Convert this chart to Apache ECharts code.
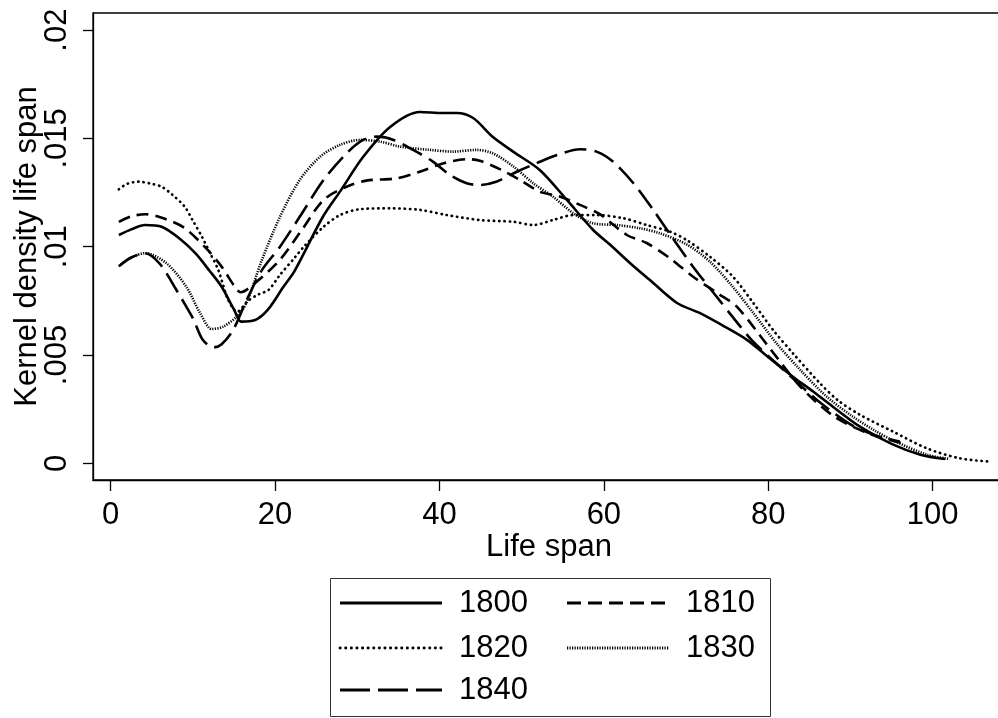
<!DOCTYPE html>
<html>
<head>
<meta charset="utf-8">
<script src="https://cdn.jsdelivr.net/npm/echarts@6/dist/echarts.min.js"></script>
<style>
html,body{margin:0;padding:0;background:#fff;}
#chart{width:998px;height:718px;}
</style>
</head>
<body>
<div id="chart"></div>
<script>
// ---- data ----
const seriesNames = ['1800', '1810', '1820', '1830', '1840'];
const xTickValues = [0, 20, 40, 60, 80, 100];
const yTickValues = [0, 0.005, 0.01, 0.015, 0.02];

const x1800 = [1, 2.5, 4.2, 6.2, 8.3, 10.3, 12, 13.5, 15, 15.9, 17.5, 19.1, 21, 22.4, 25.8, 28, 30.7, 34, 37.6, 40.4, 42.1, 44.1, 46.5, 49, 52.2, 55.5, 58.7, 60.8, 63.2, 65.6, 68.9, 71.7, 74.5, 77.4, 80, 83, 85.5, 87.9, 91.2, 95, 98.5, 101.5];
const y1800 = [0.01054, 0.0108, 0.0110, 0.01092, 0.0104, 0.0097, 0.0089, 0.00815, 0.0071, 0.00654, 0.0066, 0.00708, 0.00814, 0.0089, 0.01137, 0.0126, 0.01414, 0.01553, 0.01622, 0.01617, 0.01617, 0.01594, 0.01506, 0.01438, 0.01354, 0.01216, 0.01077, 0.01008, 0.00924, 0.00846, 0.0074, 0.00693, 0.00635, 0.0057, 0.0049, 0.0040, 0.0033, 0.0026, 0.00168, 0.0009, 0.0004, 0.0002];

const x1810 = [1, 2.5, 4.2, 6.5, 9, 11.8, 13.5, 15.1, 15.8, 17.5, 20.6, 23.3, 25.9, 28.7, 31.1, 34.8, 37.6, 40.5, 43.3, 44.9, 47.4, 49.8, 52.2, 54.7, 57.1, 59.5, 62.8, 65.2, 68, 70.9, 73.8, 76.2, 80, 84, 88.1, 92.4, 96.6];
const y1810 = [0.01115, 0.0114, 0.0115, 0.0113, 0.01086, 0.00985, 0.00908, 0.00815, 0.0079, 0.0083, 0.0094, 0.0108, 0.01216, 0.01277, 0.01305, 0.01316, 0.01346, 0.01385, 0.01404, 0.01397, 0.01357, 0.01308, 0.01254, 0.01231, 0.01193, 0.0115, 0.01054, 0.01017, 0.00948, 0.0086, 0.00786, 0.00722, 0.0054, 0.0035, 0.00214, 0.00135, 0.0009];

const x1820 = [1, 2, 3.4, 5, 6.2, 7.5, 9, 10, 11.1, 12.1, 13.1, 14.3, 15.4, 16.7, 18, 19.2, 20.6, 22.4, 23.5, 25.9, 27.9, 30.3, 34, 37.6, 40.9, 44.9, 49, 51.4, 53.8, 56.3, 59.1, 62.4, 65.2, 68, 70.1, 72.9, 75.7, 78.2, 80.6, 83, 86.3, 88.5, 91.2, 95.2, 99.3, 103.3, 107.2];
const y1820 = [0.01265, 0.0129, 0.0130, 0.0129, 0.01277, 0.0124, 0.01185, 0.0112, 0.01046, 0.0097, 0.00892, 0.00754, 0.0070, 0.0075, 0.0078, 0.0080, 0.0087, 0.0095, 0.0100, 0.01092, 0.01146, 0.01173, 0.01177, 0.0117, 0.01146, 0.01123, 0.01115, 0.011, 0.01123, 0.01146, 0.01146, 0.01131, 0.011, 0.0107, 0.0103, 0.00954, 0.00862, 0.00739, 0.00615, 0.00508, 0.00369, 0.0029, 0.00223, 0.00146, 0.00069, 0.00023, 0.00007];

const x1830 = [1, 2.5, 4.2, 6.8, 9.2, 10.9, 12.3, 13.7, 15.3, 16.5, 18.4, 20.6, 23, 25.5, 27.9, 30.3, 32.8, 35.2, 38.8, 41.7, 44.5, 46.5, 49, 51.4, 53.8, 56.3, 58.7, 61.6, 64.4, 66.8, 70.1, 72.9, 75.7, 78.2, 81, 83.9, 87.1, 90.3, 93, 95.2, 99.3, 102];
const y1830 = [0.0091, 0.0095, 0.0097, 0.00923, 0.00815, 0.00692, 0.0062, 0.00631, 0.00677, 0.00739, 0.00939, 0.01138, 0.01308, 0.01416, 0.0147, 0.01493, 0.01485, 0.01462, 0.01447, 0.01439, 0.01447, 0.01431, 0.0137, 0.01293, 0.01231, 0.01154, 0.01108, 0.011, 0.01085, 0.01062, 0.0101, 0.00931, 0.00814, 0.00693, 0.00554, 0.00431, 0.00308, 0.00215, 0.0015, 0.00105, 0.0004, 0.0002];

const x1840 = [1, 2.5, 4.2, 6, 8, 9.2, 10.1, 11.2, 12.5, 13.5, 14.9, 16.5, 18.4, 20.6, 23, 25.9, 28.7, 30.7, 32.4, 34.4, 36.8, 39.2, 41.3, 43.3, 44.9, 46.9, 49.4, 51.8, 54.3, 57.1, 59.1, 61.1, 63.6, 66, 68, 70.8, 73.7, 76, 78.2, 82.2, 86, 90, 93, 96];
const y1840 = [0.0091, 0.0095, 0.0097, 0.0092, 0.0080, 0.00723, 0.00662, 0.0057, 0.00535, 0.0055, 0.00616, 0.0075, 0.00892, 0.0100, 0.01138, 0.01308, 0.01431, 0.01493, 0.01508, 0.01493, 0.01447, 0.01393, 0.01331, 0.01293, 0.01285, 0.013, 0.01346, 0.01385, 0.01423, 0.0145, 0.01439, 0.01393, 0.01293, 0.0117, 0.0106, 0.0091, 0.0077, 0.0066, 0.0056, 0.0042, 0.0029, 0.0018, 0.0013, 0.0010];

const xsAll = [x1800, x1810, x1820, x1830, x1840];
const ysAll = [y1800, y1810, y1820, y1830, y1840];

// ---- styles ----
const FONT = 'Liberation Sans, Arial, Helvetica, sans-serif';
const FS = 31;
const lineStyles = [
  { type: 'solid', width: 2.6, cap: 'butt' },
  { type: [12, 7], width: 2.6, cap: 'butt' },
  { type: [0.3, 5], width: 2.7, cap: 'round' },
  { type: [1.2, 1.3], width: 2.6, cap: 'butt' },
  { type: [22, 8], width: 2.6, cap: 'butt' }
];

const series = seriesNames.map((name, i) => ({
  name: name,
  type: 'line',
  data: xsAll[i].map((x, j) => [x, ysAll[i][j]]),
  smooth: 0.3,
  symbol: 'none',
  lineStyle: Object.assign({ color: '#000' }, lineStyles[i]),
  z: 3
}));

// ---- legend drawn as graphic ----
const legendRows = [
  { i: 0, x: 340, y: 603 }, { i: 1, x: 567, y: 603 },
  { i: 2, x: 340, y: 648 }, { i: 3, x: 567, y: 648 },
  { i: 4, x: 340, y: 690 }
];
const graphics = [{
  type: 'rect',
  shape: { x: 330.5, y: 578.5, width: 440, height: 138 },
  style: { fill: '#fff', stroke: '#333', lineWidth: 1 },
  z: 10
}];
const legendDash = [null, [14, 7], [0.3, 5.3], [1.2, 1.3], [30, 8]];
legendRows.forEach(r => {
  const ls = lineStyles[r.i];
  graphics.push({
    type: 'line',
    shape: { x1: r.x, y1: r.y, x2: r.x + 102, y2: r.y },
    style: {
      stroke: '#000', lineWidth: 2.8,
      lineDash: legendDash[r.i] || null,
      lineCap: ls.cap
    },
    z: 11
  });
  graphics.push({
    type: 'text',
    x: r.x + 119, y: r.y,
    style: {
      text: seriesNames[r.i], fill: '#000', font: FS + 'px ' + FONT,
      textVerticalAlign: 'middle', verticalAlign: 'middle'
    },
    z: 11
  });
});

const chart = echarts.init(document.getElementById('chart'), null, { renderer: 'canvas' });
chart.setOption({
  animation: false,
  backgroundColor: '#fff',
  textStyle: { fontFamily: FONT },
  grid: {
    left: 93, top: 13, width: 912, height: 467,
    show: true, borderColor: '#000', borderWidth: 1.3,
    containLabel: false,
    outerBoundsMode: 'none'
  },
  xAxis: {
    type: 'value',
    min: -2.15, max: 108.8,
    name: 'Life span', nameLocation: 'middle', nameGap: 52, nameMoveOverlap: false,
    nameTextStyle: { fontSize: FS, color: '#000', fontFamily: FONT },
    axisLine: { show: true, onZero: false, lineStyle: { color: '#000', width: 1.3 } },
    axisTick: { show: true, length: 11, customValues: xTickValues, lineStyle: { color: '#000', width: 1.3 } },
    axisLabel: { show: true, customValues: xTickValues, fontSize: FS, color: '#000', margin: 20, fontFamily: FONT },
    splitLine: { show: false }
  },
  yAxis: {
    type: 'value',
    min: -0.000771, max: 0.020789,
    name: 'Kernel density life span', nameLocation: 'middle', nameGap: 50, nameRotate: 90, nameMoveOverlap: false,
    nameTextStyle: { fontSize: FS, color: '#000', fontFamily: FONT },
    axisLine: { show: true, onZero: false, lineStyle: { color: '#000', width: 1.3 } },
    axisTick: { show: true, length: 10, customValues: yTickValues, lineStyle: { color: '#000', width: 1.3 } },
    axisLabel: {
      show: true, customValues: yTickValues, rotate: 90, fontSize: FS, color: '#000', margin: 20, fontFamily: FONT,
      formatter: v => v === 0 ? '0' : String(+v.toFixed(4)).replace(/^0\./, '.')
    },
    splitLine: { show: false }
  },
  legend: { show: false },
  series: series,
  graphic: graphics
});
</script>
</body>
</html>
